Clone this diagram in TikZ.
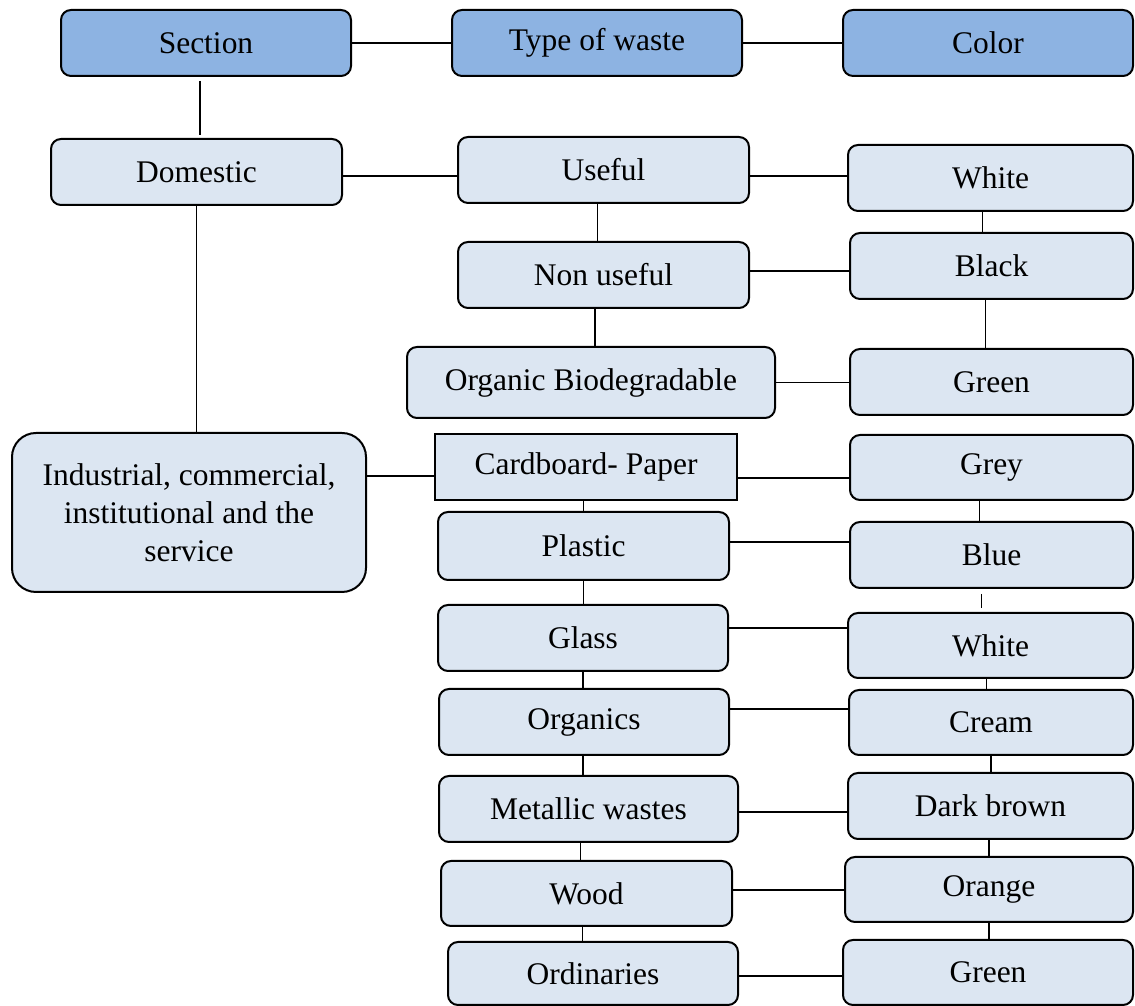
\documentclass[tikz,border=0pt]{standalone}
\usepackage{fontspec}
\setmainfont{Liberation Serif}
\usetikzlibrary{calc}
\definecolor{headblue}{HTML}{8DB3E2}
\definecolor{paleblue}{HTML}{DCE6F2}
\tikzset{
	box/.style={draw, line width=0.05cm, fill=paleblue, rounded corners=0.25cm, inner sep=0,
		font=\fontsize{22.4}{27}\selectfont, align=center},
	headbox/.style={box, fill=headblue},
	wh/.style 2 args={minimum width=#1cm, minimum height=#2cm},
	link/.style={line width=0.035cm}
}

\begin{document}
\begin{tikzpicture}
			%%%%% START %%%%%
			\useasboundingbox (0, 0) rectangle (28.375, 25.15);
			
			% headings
			\node[headbox, wh={7.25}{1.65}] (sec) at (5.15, 24.075) {Section};
			\node[headbox, wh={7.25}{1.65}] (typ) at (14.925, 24.075) {Type of waste};
			\node[headbox, wh={7.25}{1.65}] (col) at (24.7, 24.075) {Color};
			
			% sections
			\node[box, wh={7.275}{1.65}] (dom) at (4.9125, 20.85) {Domestic};
			\node[box, wh={8.85}{3.975}, rounded corners=0.6cm] (ind) at (4.725, 12.3375) {Industrial, commercial,\\institutional and the\\service};
			
			% types of waste
			\node[box, wh={7.275}{1.65}] (usef) at (15.0875, 20.9) {Useful};
			\node[box, wh={7.275}{1.65}] (nonu) at (15.0875, 18.275) {Non useful};
			\node[box, wh={9.2}{1.775}] (orgb) at (14.775, 15.5875) {Organic Biodegradable};
			\node[box, wh={7.55}{1.65}, sharp corners] (card) at (14.65, 13.475) {Cardboard- Paper};
			\node[box, wh={7.275}{1.7}] (plas) at (14.5875, 11.5) {Plastic};
			\node[box, wh={7.25}{1.65}] (glas) at (14.575, 9.2) {Glass};
			\node[box, wh={7.25}{1.65}] (orgs) at (14.6, 7.1) {Organics};
			\node[box, wh={7.475}{1.65}] (met) at (14.7125, 4.925) {Metallic wastes};
			\node[box, wh={7.275}{1.625}] (wood) at (14.6625, 2.8125) {Wood};
			\node[box, wh={7.25}{1.575}] (ordn) at (14.825, 0.8125) {Ordinaries};
			
			% colors
			\node[box, wh={7.125}{1.65}] (wht1) at (24.7625, 20.7) {White};
			\node[box, wh={7.075}{1.65}] (blk) at (24.7875, 18.5) {Black};
			\node[box, wh={7.075}{1.65}] (grn1) at (24.7875, 15.6) {Green};
			\node[box, wh={7.075}{1.625}] (grey) at (24.7875, 13.4625) {Grey};
			\node[box, wh={7.075}{1.65}] (blue) at (24.7875, 11.275) {Blue};
			\node[box, wh={7.125}{1.625}] (wht2) at (24.7625, 9.0125) {White};
			\node[box, wh={7.1}{1.625}] (crm) at (24.775, 7.0875) {Cream};
			\node[box, wh={7.125}{1.65}] (dkb) at (24.7625, 5.0) {Dark brown};
			\node[box, wh={7.2}{1.625}] (orng) at (24.725, 2.9125) {Orange};
			\node[box, wh={7.25}{1.625}] (grn2) at (24.7, 0.8375) {Green};
			
			% across
			\draw[link] (sec.east) -- (sec.east -| typ.west);
			\draw[link] (typ.east) -- (typ.east -| col.west);
			\draw[link] ([yshift=-0.1cm]dom.east) -- ([yshift=-0.1cm]dom.east -| usef.west);
			\draw[link] ([yshift=-0.15cm]usef.east) -- ([yshift=-0.15cm]usef.east -| wht1.west);
			\draw[link] ([yshift=0.1cm]nonu.east) -- ([yshift=0.1cm]nonu.east -| blk.west);
			\draw[link] (orgb.east) -- (orgb.east -| grn1.west);
			\draw[link] ([yshift=-0.225cm]card.west) -- ([yshift=-0.225cm]card.west -| ind.east);
			\draw[link] ([yshift=-0.275cm]card.east) -- ([yshift=-0.275cm]card.east -| grey.west);
			\draw[link] ([yshift=0.1cm]plas.east) -- ([yshift=0.1cm]plas.east -| blue.west);
			\draw[link] ([yshift=0.25cm]glas.east) -- ([yshift=0.25cm]glas.east -| wht2.west);
			\draw[link] ([yshift=0.325cm]orgs.east) -- ([yshift=0.325cm]orgs.east -| crm.west);
			\draw[link] ([yshift=-0.075cm]met.east) -- ([yshift=-0.075cm]met.east -| dkb.west);
			\draw[link] ([yshift=0.09cm]wood.east) -- ([yshift=0.09cm]wood.east -| orng.west);
			\draw[link] ([yshift=-0.06cm]ordn.east) -- ([yshift=-0.06cm]ordn.east -| grn2.west);
			
			% down
			\draw[link, shorten <=0.1cm, shorten >=0.075cm] ([xshift=-0.15cm]sec.south) -- ([xshift=-0.15cm]sec.south |- dom.north);
			\draw[link] (dom.south) -- (dom.south |- ind.north);
			\draw[link] ([xshift=-0.15cm]usef.south) -- ([xshift=-0.15cm]usef.south |- nonu.north);
			\draw[link] ([xshift=0.1cm]orgb.north) -- ([xshift=0.1cm]orgb.north |- nonu.south);
			\draw[link] (plas.north) -- (plas.north |- card.south);
			\draw[link] (plas.south) -- (plas.south |- glas.north);
			\draw[link] (glas.south) -- (glas.south |- orgs.north);
			\draw[link] ([xshift=-0.025cm]orgs.south) -- ([xshift=-0.025cm]orgs.south |- met.north);
			\draw[link] ([xshift=-0.15cm]wood.north) -- ([xshift=-0.15cm]wood.north |- met.south);
			\draw[link] ([xshift=-0.1cm]wood.south) -- ([xshift=-0.1cm]wood.south |- ordn.north);
			
			\draw[link] ([xshift=-0.2cm]wht1.south) -- ([xshift=-0.2cm]wht1.south |- blk.north);
			\draw[link] ([xshift=-0.15cm]blk.south) -- ([xshift=-0.15cm]blk.south |- grn1.north);
			\draw[link] ([xshift=-0.3cm]grey.south) -- ([xshift=-0.3cm]grey.south |- blue.north);
			\draw[link, shorten <=0.125cm, shorten >=0.1cm] ([xshift=-0.25cm]blue.south) -- ([xshift=-0.25cm]blue.south |- wht2.north);
			\draw[link] ([xshift=-0.1cm]wht2.south) -- ([xshift=-0.1cm]wht2.south |- crm.north);
			\draw[link] (crm.south) -- (crm.south |- dkb.north);
			\draw[link] (orng.north) -- (orng.north |- dkb.south);
			\draw[link] (orng.south) -- (orng.south |- grn2.north);
			
			%%%%% END %%%%%
		\end{tikzpicture}
\end{document}
